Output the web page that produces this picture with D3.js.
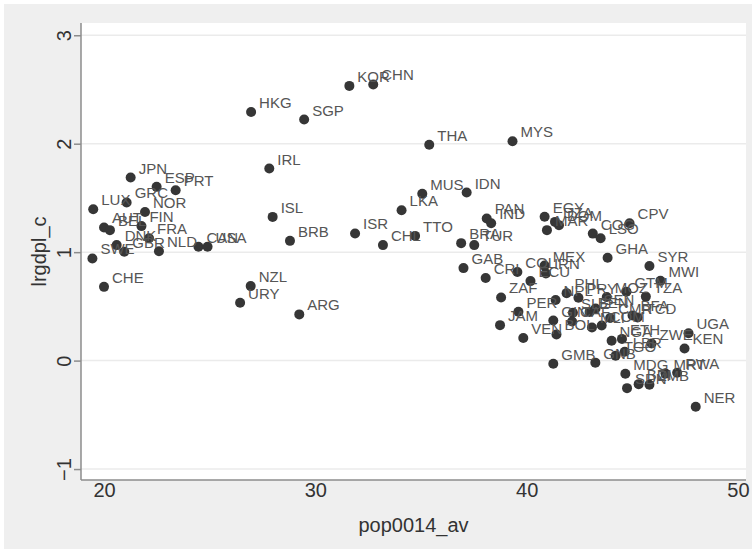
<!DOCTYPE html>
<html>
<head>
<meta charset="utf-8">
<script src="https://cdn.jsdelivr.net/npm/d3@7"></script>
<style>
  html, body { margin: 0; padding: 0; background: #ffffff; }
  svg { display: block; }
  text { font-family: "Liberation Sans", Arial, sans-serif; }
</style>
</head>
<body>
<svg id="chart" width="756" height="553"></svg>
<script>
// ---- data ----
const countries = ["LUX","JPN","ESP","PRT","GRC","NOR","FIN","AUT","BEL","FRA","DNK","GBR","NLD","SWE","CHE","CAN","USA",
  "HKG","SGP","KOR","CHN","IRL","ISL","BRB","ISR","CHL","TTO","LKA","MUS","IDN","THA","MYS","NZL","URY","ARG",
  "PAN","IND","BRA","TUR","GAB","CRI","COL","ZAF","MEX","IRN","ECU","EGY","DZA","DOM","MAR","COG","LSO","CPV","GHA",
  "SYR","MWI","GTM","TZA","MOZ","PRY","PHL","NPL","PER","JAM","VEN","BOL","GMB","GNB","GIN","SLE","BEN","SEN","CAF",
  "MLI","COM","CMR","BFA","TCD","NGA","ETH","TGO","LBR","ZWE","UGA","KEN","MDG","SDN","BDI","ZMB","MRT","RWA","NER"];
const pop0014_av = [19.49,21.26,22.49,23.39,21.07,21.94,21.77,20.00,20.28,22.13,20.60,20.96,22.60,19.45,20.00,24.47,24.90,
  26.96,29.47,31.61,32.74,27.82,27.98,28.80,31.88,33.20,34.72,34.08,35.06,37.16,35.39,39.33,26.94,26.44,29.24,
  38.11,38.32,36.90,37.52,37.01,38.06,39.56,38.79,40.85,40.91,40.18,40.85,41.34,41.53,40.96,43.13,43.50,44.87,43.83,
  45.81,46.33,44.72,45.64,43.79,42.45,41.89,41.37,39.61,38.74,39.84,41.41,41.26,43.25,41.26,42.19,42.98,43.26,42.15,
  43.09,43.55,43.95,45.01,45.25,44.02,44.51,44.21,44.64,45.91,47.66,47.47,44.67,44.75,45.30,45.81,46.57,47.12,48.00];
const lrgdpl_c = [1.396,1.688,1.602,1.571,1.458,1.371,1.240,1.228,1.203,1.129,1.065,1.003,1.009,0.942,0.680,1.049,1.049,
  2.293,2.223,2.533,2.546,1.771,1.325,1.104,1.172,1.065,1.150,1.387,1.539,1.550,1.990,2.023,0.687,0.533,0.426,
  1.311,1.267,1.083,1.065,0.853,0.761,0.817,0.582,0.876,0.804,0.733,1.327,1.279,1.249,1.203,1.171,1.129,1.267,0.948,
  0.873,0.737,0.636,0.590,0.587,0.580,0.622,0.558,0.450,0.327,0.209,0.241,-0.029,-0.019,0.369,0.441,0.449,0.480,0.361,
  0.306,0.323,0.392,0.417,0.397,0.183,0.200,0.045,0.081,0.157,0.253,0.112,-0.121,-0.254,-0.217,-0.223,-0.120,-0.112,-0.425];
const xTicks = [20, 30, 40, 50];
const yTicks = [-1, 0, 1, 2, 3];
const xTitle = "pop0014_av";
const yTitle = "lrgdpl_c";

// ---- layout ----
const W = 756, H = 553;
const plot = { left: 81, right: 746, top: 23, bottom: 480 };
const svg = d3.select("#chart");

svg.append("rect").attr("x", 0).attr("y", 0).attr("width", W).attr("height", H).attr("fill", "#ffffff");
svg.append("rect").attr("x", 4).attr("y", 4).attr("width", W - 8).attr("height", H - 8).attr("fill", "#efefef");
svg.append("rect").attr("x", plot.left).attr("y", plot.top)
  .attr("width", plot.right - plot.left).attr("height", plot.bottom - plot.top).attr("fill", "#ffffff");

const x = d3.scaleLinear().domain([18.911, 50.379]).range([plot.left, plot.right]);
const y = d3.scaleLinear().domain([-1.101, 3.113]).range([plot.bottom, plot.top]);

// gridlines
svg.append("g").selectAll("line").data(yTicks).join("line")
  .attr("x1", plot.left).attr("x2", plot.right)
  .attr("y1", d => y(d)).attr("y2", d => y(d))
  .attr("stroke", "#ebebeb").attr("stroke-width", 1.5);

// y axis
const yAxis = svg.append("g").attr("transform", `translate(${plot.left},0)`)
  .call(d3.axisLeft(y).tickValues(yTicks).tickSize(7).tickPadding(3).tickFormat(d3.format("d")));
yAxis.select(".domain").attr("stroke", "#8c8c8c").attr("stroke-width", 1.5)
  .attr("d", `M0,${plot.top}V${plot.bottom}`);
yAxis.selectAll(".tick line").attr("stroke", "#8c8c8c").attr("stroke-width", 1.5);
yAxis.selectAll(".tick text")
  .attr("font-size", 20).attr("fill", "#333")
  .attr("text-anchor", "middle")
  .attr("x", 0).attr("dy", 0)
  .attr("transform", "translate(-10.5,0) rotate(-90)")
  .attr("y", 0);

// x axis
const xAxis = svg.append("g").attr("transform", `translate(0,${plot.bottom})`)
  .call(d3.axisBottom(x).tickValues(xTicks).tickSize(0).tickPadding(3).tickFormat(d3.format("d")));
xAxis.select(".domain").attr("stroke", "#8c8c8c").attr("stroke-width", 1.5)
  .attr("d", `M${plot.left},0H${plot.right}`);
xAxis.selectAll(".tick text").attr("font-size", 20).attr("fill", "#333").attr("dy", "0.71em");

// axis titles
svg.append("text").attr("x", (plot.left + plot.right) / 2).attr("y", 532)
  .attr("text-anchor", "middle").attr("font-size", 20).attr("fill", "#333").text(xTitle);
svg.append("text").attr("transform", `translate(46,${(plot.top + plot.bottom) / 2}) rotate(-90)`)
  .attr("text-anchor", "middle").attr("font-size", 20).attr("fill", "#333").text(yTitle);

// points
const pts = countries.map((c, i) => ({ c, x: pop0014_av[i], y: lrgdpl_c[i] }));
svg.append("g").selectAll("circle").data(pts).join("circle")
  .attr("cx", d => x(d.x)).attr("cy", d => y(d.y)).attr("r", 5)
  .attr("fill", "#363636");
svg.append("g").selectAll("text").data(pts).join("text")
  .attr("x", d => x(d.x) + 8).attr("y", d => y(d.y) - 4)
  .attr("font-size", 15).attr("fill", "#555").text(d => d.c);
</script>
</body>
</html>
